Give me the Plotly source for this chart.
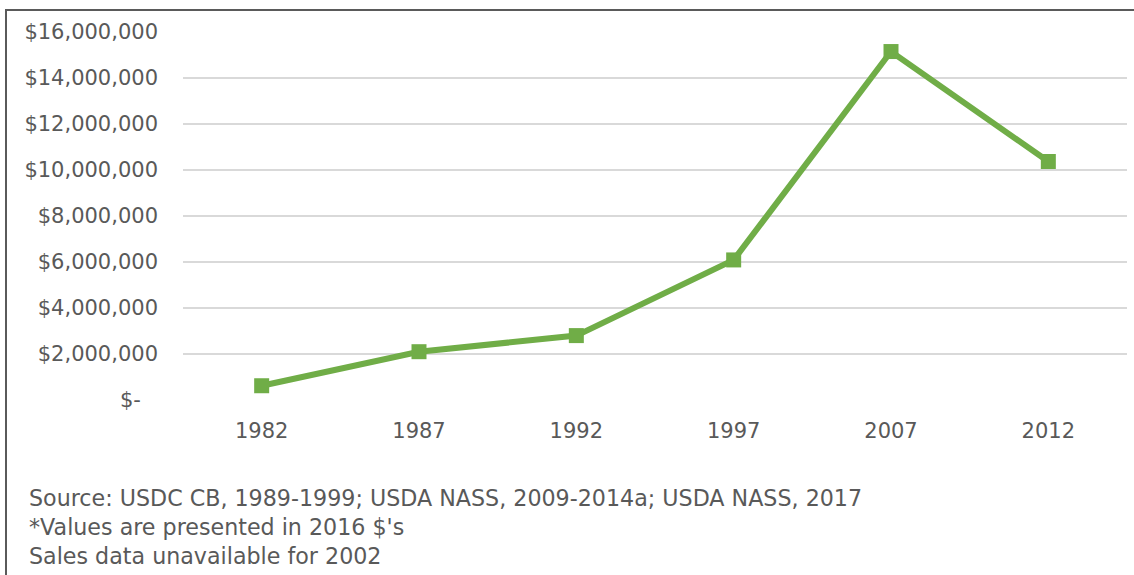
import plotly.graph_objects as go

years = ["1982", "1987", "1992", "1997", "2007", "2012"]
sales = [620000, 2100000, 2800000, 6090000, 15150000, 10370000]
y_ticks = [0, 2000000, 4000000, 6000000, 8000000, 10000000, 12000000, 14000000, 16000000]
notes = [
    "Source: USDC CB, 1989-1999; USDA NASS, 2009-2014a; USDA NASS, 2017",
    "*Values are presented in 2016 $'s",
    "Sales data unavailable for 2002",
]

def fmt(v):
    return "$-\u2002\u00a0" if v == 0 else "${:,.0f}".format(v)

W, H = 1134, 575
L, R, T, B = 183, 7, 32, 175
pw, ph = W - L - R, H - T - B

def px(x):
    return (x - L) / pw

def py(y):
    return (H - B - y) / ph

fig = go.Figure()
fig.add_trace(go.Scatter(
    x=years, y=sales, mode="lines+markers",
    line=dict(color="#70AD47", width=6),
    marker=dict(symbol="square", size=15, color="#70AD47"),
    showlegend=False,
))

font_fam = "'DejaVu Sans', 'Open Sans', sans-serif"
FS = 21
fig.update_layout(
    width=W, height=H,
    margin=dict(l=L, r=R, t=T, b=B),
    paper_bgcolor="white", plot_bgcolor="white",
    font=dict(family=font_fam, size=FS, color="#595959"),
    xaxis=dict(type="category", range=[-0.5, 5.5], showgrid=False,
               showline=False, zeroline=False, ticks="",
               ticklabelstandoff=16, tickfont=dict(size=FS)),
    yaxis=dict(range=[0, 16000000], tickvals=y_ticks,
               ticktext=[fmt(v) for v in y_ticks],
               showgrid=True, gridcolor="#D9D9D9", gridwidth=1.5,
               zeroline=False, showline=False, ticks="",
               ticklabelstandoff=24, tickfont=dict(size=FS)),
)

# outer border (left and top)
fig.add_shape(type="path", xref="paper", yref="paper",
              path=f"M {px(6)} {py(600)} L {px(6)} {py(10)} L {px(1140)} {py(10)}",
              line=dict(color="#5a5a5a", width=2))

for txt, yc in zip(notes, [498, 527, 556]):
    fig.add_annotation(text=txt, xref="paper", yref="paper",
                       x=px(27), y=py(yc), xanchor="left", yanchor="middle",
                       showarrow=False, font=dict(size=22.2, color="#595959"))

fig.write_html("out.html", config={"displayModeBar": False},
               post_script="document.body.style.margin='0';document.body.style.overflow='hidden';")
